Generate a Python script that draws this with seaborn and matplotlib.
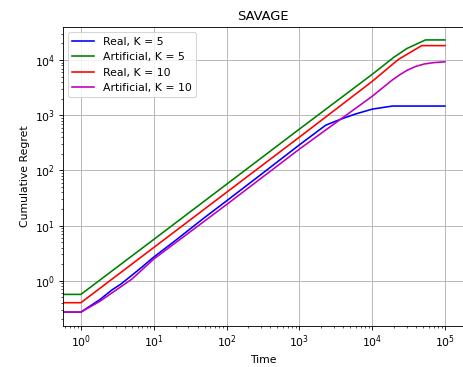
import numpy as np
import pandas as pd
import matplotlib
matplotlib.use("Agg")
import matplotlib.pyplot as plt
import seaborn as sns

# ---- data ----
labels = ["Real, K = 5", "Artificial, K = 5", "Real, K = 10", "Artificial, K = 10"]
colors = ["#0000ff", "#008000", "#ff0000", "#bf00bf"]

t_real5 = [0, 1, 1.8, 2.7, 3.5, 5.1, 7, 9.7, 20, 50, 100, 300, 1000, 2300, 3000, 4000, 6000, 10000, 19000, 100000]
y_real5 = [0.27, 0.27, 0.45, 0.69, 0.86, 1.28, 1.8, 2.6, 5.4, 14, 28, 85, 290, 660, 760, 880, 1060, 1290, 1470, 1470]

t_art5 = [0, 1, 10, 100, 1000, 10000, 20000, 30000, 54000, 100000]
y_art5 = [0.566, 0.566, 5.6, 56, 560, 5500, 11300, 16200, 23200, 23200]

t_real10 = [0, 1, 10, 100, 1000, 10000, 23000, 48000, 100000]
y_real10 = [0.40, 0.40, 4.0, 40, 400, 4100, 10300, 18300, 18300]

t_art10 = [0, 1, 1.8, 5, 10, 100, 1000, 10000, 18700, 23400, 30000, 40000, 52000, 70000, 100000]
y_art10 = [0.27, 0.27, 0.42, 1.07, 2.47, 24, 243, 2200, 4300, 5300, 6500, 7700, 8500, 9000, 9300]

series_t = [t_real5, t_art5, t_real10, t_art10]
series_y = [y_real5, y_art5, y_real10, y_art10]

frames = []
for lab, tt, yy in zip(labels, series_t, series_y):
    frames.append(pd.DataFrame({"Time": tt, "Regret": yy, "Series": lab}))
df = pd.concat(frames, ignore_index=True)

dpi = 78
fig = plt.figure(figsize=(463 / dpi, 367 / dpi), dpi=dpi)
ax = fig.add_axes([62.7 / 463, 1 - 326 / 367, 400.4 / 463, (326 - 27) / 367])

sns.lineplot(data=df, x="Time", y="Regret", hue="Series", hue_order=labels,
             palette=dict(zip(labels, colors)), estimator=None, sort=True,
             errorbar=None, linewidth=1.5, ax=ax)

ax.set_xscale("log")
ax.set_yscale("log")
ax.set_xlim(10 ** -0.25, 10 ** 5.25)
ax.set_ylim(10 ** -0.82, 10 ** 4.6)
ax.grid(True, which="major", color="#b0b0b0", linewidth=0.8)
ax.set_axisbelow(True)
ax.set_title("SAVAGE", fontsize=12)
ax.set_xlabel("Time", fontsize=10)
ax.set_ylabel("Cumulative Regret", fontsize=10)
ax.tick_params(labelsize=10)
for s in ax.spines.values():
    s.set_color("black")
    s.set_linewidth(0.8)

handles, labs = ax.get_legend_handles_labels()
ax.legend(handles, labs, loc="upper left", fontsize=10, framealpha=0.8)

fig.savefig("out.png", dpi=dpi)
